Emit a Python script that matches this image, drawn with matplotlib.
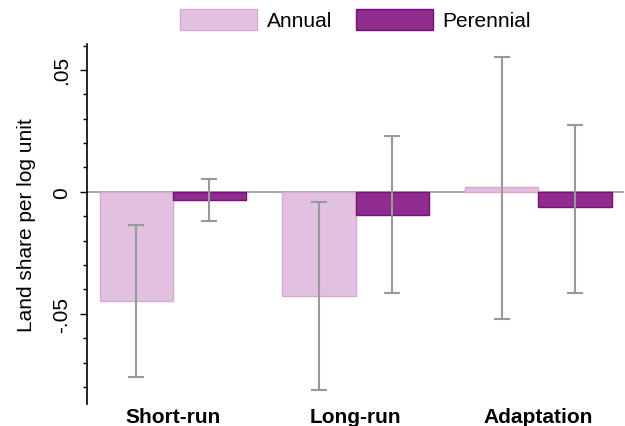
import numpy as np
import matplotlib
matplotlib.use('Agg')
import matplotlib.pyplot as plt
from matplotlib.ticker import MultipleLocator

plt.rcParams['font.family'] = ['Liberation Sans', 'DejaVu Sans']

# data
groups = ['Short-run', 'Long-run', 'Adaptation']
annual = [-0.0447, -0.0426, 0.0020]
annual_lo = [-0.0758, -0.0811, -0.0520]
annual_hi = [-0.0135, -0.0041, 0.0553]
perennial = [-0.0033, -0.0094, -0.0061]
perennial_lo = [-0.0119, -0.0414, -0.0414]
perennial_hi = [0.0053, 0.0230, 0.0275]

x = np.arange(len(groups))
w = 0.4

fig = plt.figure(figsize=(6.25, 4.27), dpi=100)
ax = fig.add_axes([0.139, 0.052, 0.86, 0.843])

ax.axhline(0, color='#999999', lw=1.2, zorder=1)
ax.bar(x - w/2, annual, w, color='#E2C0E0', edgecolor='#D6A8D4', lw=1, label='Annual', zorder=2)
ax.bar(x + w/2, perennial, w, color='#8E2D8E', edgecolor='#7A0E7A', lw=1, label='Perennial', zorder=2)

ax.errorbar(x - w/2, annual,
            yerr=[np.array(annual) - np.array(annual_lo), np.array(annual_hi) - np.array(annual)],
            fmt='none', ecolor='#999999', elinewidth=1.5, capsize=6, capthick=1.5, zorder=3)
ax.errorbar(x + w/2, perennial,
            yerr=[np.array(perennial) - np.array(perennial_lo), np.array(perennial_hi) - np.array(perennial)],
            fmt='none', ecolor='#999999', elinewidth=1.5, capsize=6, capthick=1.5, zorder=3)

ax.set_xlim(-0.47, 2.47)
ax.set_ylim(-0.0869, 0.0607)
ax.set_xticks(x)
ax.set_xticklabels(groups, fontsize=15, fontweight='bold')
ax.tick_params(axis='x', length=0, pad=2)
ax.set_yticks([-0.05, 0, 0.05])
ax.set_yticklabels(['-.05', '0', '.05'], rotation=90, va='center', fontsize=15)
ax.yaxis.set_minor_locator(MultipleLocator(0.01))
ax.tick_params(axis='y', which='major', length=5, width=1, pad=6)
ax.tick_params(axis='y', which='minor', length=3, width=1)
for s in ['top', 'right', 'bottom']:
    ax.spines[s].set_visible(False)
ax.spines['left'].set_linewidth(1.2)
ax.set_ylabel('Land share per log unit', fontsize=15, labelpad=12)

ax.legend(loc='lower center', bbox_to_anchor=(0.5, 1.0), ncol=2, frameon=False,
          fontsize=15, handlelength=3.7, handleheight=1.15, handletextpad=0.45,
          columnspacing=1.15, borderaxespad=0.25)

fig.savefig('out.png', dpi=100)
